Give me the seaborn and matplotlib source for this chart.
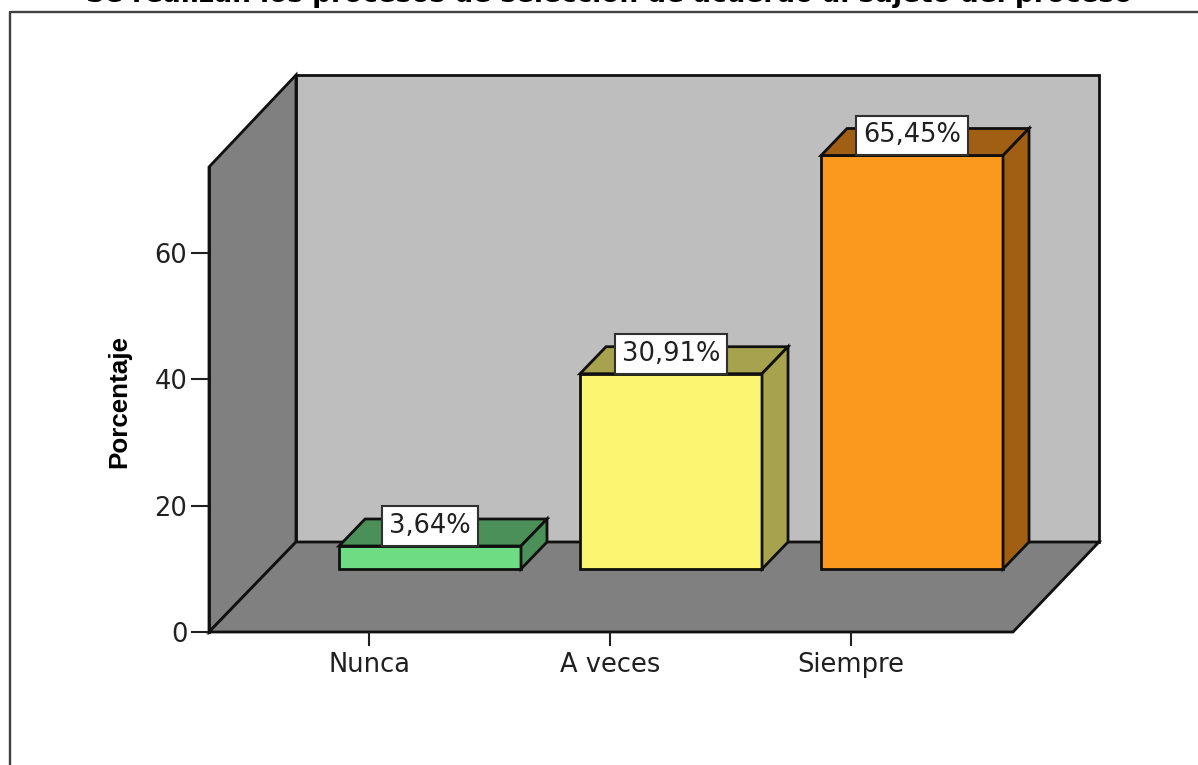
import matplotlib
matplotlib.use("Agg")
import matplotlib.pyplot as plt
import seaborn as sns
import pandas as pd
from matplotlib.patches import Polygon

# Data
categorias = ["Nunca", "A veces", "Siempre"]
porcentajes = [3.64, 30.91, 65.45]
etiquetas = ["3,64%", "30,91%", "65,45%"]
yticks = [0, 20, 40, 60]
titulo = "Se realizan los procesos de selección de acuerdo al sujeto del proceso"

# Colours: front, darker top and side
frente = ["#6EDC82", "#FBF672", "#FB981E"]
sombra = ["#4A9058", "#A7A24E", "#A15F14"]

W, H = 1198, 765
df = pd.DataFrame({"categoria": categorias, "porcentaje": porcentajes})

sns.set_style("white")
plt.rcParams['font.family'] = ['DejaVu Sans']
fig = plt.figure(figsize=(W / 100, H / 100), dpi=100)


def px_axes(x0, y0, x1, y1, **kw):
    # axes from pixel box, y measured from the top of the image
    return fig.add_axes([x0 / W, 1 - y1 / H, (x1 - x0) / W, (y1 - y0) / H], **kw)


# Background in pixel coordinates: frame, walls and floor
bg = px_axes(0, 0, W, H)
bg.set_xlim(0, W)
bg.set_ylim(H, 0)
bg.axis("off")
bg.plot([10, 10, W], [H, 12, 12], color="#404040", lw=1.7)
bg.add_patch(Polygon([(296, 75), (1099, 75), (1099, 542), (296, 542)], fc="#BEBEBE", ec="#101010", lw=2))
bg.add_patch(Polygon([(209, 167), (296, 75), (296, 542), (209, 632)], fc="#808080", ec="#101010", lw=2))
bg.add_patch(Polygon([(209, 632), (296, 542), (1099, 542), (1013, 632)], fc="#808080", ec="#101010", lw=2))

# Axis with the ticks, on the front edge of the floor
ax = px_axes(209, 167, 1013, 632)
ax.patch.set_alpha(0)
ax.set_xlim(-0.664, 2.672)
ax.set_ylim(0, 73.6)
ax.set_xticks(range(3))
ax.set_xticklabels(categorias, fontsize=18.5, color="#202020")
ax.set_yticks(yticks)
ax.set_yticklabels(yticks, fontsize=18.5, color="#202020")
ax.tick_params(axis="x", length=10, width=1.5, color="#202020", pad=4.5, bottom=True)
ax.tick_params(axis="y", length=13, width=1.5, color="#202020", pad=2.5, left=True)
ax.set_ylabel("Porcentaje", fontsize=18.7, fontweight="bold", family="Liberation Sans", color="black")
ax.yaxis.set_label_coords(-0.097, 0.496)
for s in ["top", "right", "bottom"]:
    ax.spines[s].set_visible(False)
ax.spines["left"].set_linewidth(2)
ax.spines["left"].set_color("#101010")

# Bars, same scale as the axis but moved to the bar plane of the floor
bars = px_axes(270, 104, 1074, 569)
bars.patch.set_alpha(0)
sns.barplot(data=df, x="categoria", y="porcentaje", hue="categoria", palette=frente, saturation=1,
            width=0.755, edgecolor="#101010", linewidth=2, legend=False, ax=bars)
bars.set_xlim(-0.664, 2.672)
bars.set_ylim(0, 73.6)
bars.axis("off")

# depth of the bars in data units
dx = 26 / 241
dy = 27 / (465 / 73.6)
for p, c, txt in zip(list(bars.patches), sombra, etiquetas):
    p.set_clip_on(False)
    x0, x1 = p.get_x(), p.get_x() + p.get_width()
    top = p.get_height()
    bars.add_patch(Polygon([(x0, top), (x0 + dx, top + dy), (x1 + dx, top + dy), (x1, top)],
                           fc=c, ec="#101010", lw=2, clip_on=False))
    bars.add_patch(Polygon([(x1, 0), (x1 + dx, dy), (x1 + dx, top + dy), (x1, top)],
                           fc=c, ec="#101010", lw=2, clip_on=False))
    bars.annotate(txt, (x0 + p.get_width() / 2, top), xytext=(0, 7), textcoords="offset pixels",
                  ha="center", va="bottom", fontsize=18.5, color="#202020", zorder=5,
                  bbox=dict(boxstyle="square,pad=0.27", fc="white", ec="#303030", lw=1.5))

# Title cut by the top of the image
fig.text(609 / W, 1 - 2 / H, titulo, ha="center", va="baseline", fontsize=19,
         fontweight="bold", color="black")

fig.savefig("out.png", dpi=100)
